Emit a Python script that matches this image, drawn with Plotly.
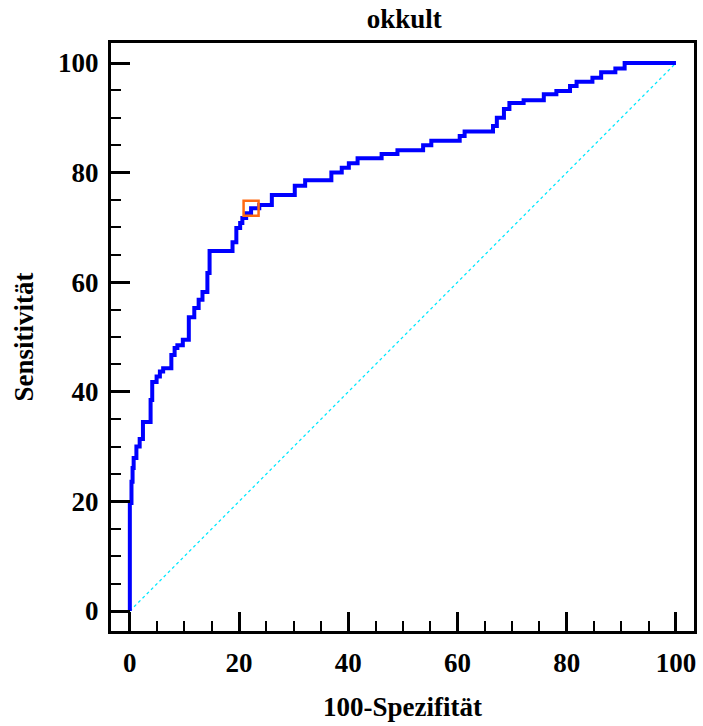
import plotly.graph_objects as go

# ROC curve vertices (100-Spezifität, Sensitivität)
fpr = [0, 0, 0.3, 0.5, 0.7, 1.2, 1.8, 2.4, 3.8, 4.1, 4.9, 5.5, 6.1, 7.6, 8.2, 8.7, 9.7,
       10.8, 11.8, 12.6, 13.3, 14.2, 14.6, 18.8, 19.5, 20.2, 20.6, 21.3, 22.2, 23.7, 26.0,
       30.2, 32.1, 36.9, 38.8, 40.1, 41.7, 46.1, 49.0, 53.7, 55.2, 60.4, 61.3, 66.5, 67.2,
       68.5, 69.5, 72.1, 75.8, 78.1, 80.6, 81.8, 84.7, 86.3, 88.9, 90.6, 100]
tpr = [0, 19.7, 23.6, 26.1, 27.9, 30.0, 31.4, 34.5, 38.5, 41.8, 42.8, 43.7, 44.3, 46.7, 48.0, 48.5, 49.5,
       53.6, 55.3, 56.8, 58.2, 61.7, 65.7, 67.3, 69.9, 70.8, 71.7, 72.6, 73.5, 74.1, 75.9,
       77.6, 78.6, 80.0, 80.9, 81.7, 82.6, 83.4, 84.1, 85.0, 85.8, 86.7, 87.5, 88.5, 90.0,
       91.6, 92.7, 93.2, 94.3, 94.9, 95.8, 96.6, 97.3, 98.3, 99.0, 100, 100]

diag_x = [0, 100]
diag_y = [0, 100]

crit_x = [22.2]
crit_y = [73.5]

tick_vals = [0, 20, 40, 60, 80, 100]

title_text = "okkult"
x_title = "100-Spezifität"
y_title = "Sensitivität"

FONT = "Liberation Serif, Times New Roman, serif"
FS = 27

fig = go.Figure()
fig.add_trace(go.Scatter(x=diag_x, y=diag_y, mode="lines",
                         line=dict(color="#00e8ff", width=1.3, dash="dot"),
                         showlegend=False, hoverinfo="skip"))
fig.add_trace(go.Scatter(x=fpr, y=tpr, mode="lines", line_shape="hv",
                         line=dict(color="#0000ff", width=4),
                         showlegend=False))
fig.add_trace(go.Scatter(x=crit_x, y=crit_y, mode="markers",
                         marker=dict(symbol="square-open", size=15,
                                     line=dict(color="#ff6a13", width=2.5),
                                     color="#ff6a13"),
                         showlegend=False))

axis_common = dict(
    showline=True, linecolor="black", linewidth=3, mirror=True,
    ticks="inside", ticklen=19, tickwidth=2.5, tickcolor="black",
    tickvals=tick_vals, showgrid=False, zeroline=False,
    tickfont=dict(family=FONT, size=FS, color="black", weight="bold"),
    minor=dict(ticks="inside", ticklen=10, tickwidth=2, tickcolor="black",
               dtick=5, tick0=0, showgrid=False),
)

fig.update_layout(
    width=703, height=726,
    margin=dict(l=111, r=6, t=43, b=95),
    paper_bgcolor="white", plot_bgcolor="white",
    title=dict(text=title_text, x=0.575, xanchor="center", y=0.975, yanchor="middle",
               font=dict(family=FONT, size=FS, color="black", weight="bold")),
    xaxis=dict(range=[-3.45, 103.3], title=dict(text=x_title, standoff=20,
               font=dict(family=FONT, size=FS, color="black", weight="bold")),
               ticklabelstandoff=6, **axis_common),
    yaxis=dict(range=[-3.65, 103.65], title=dict(text=y_title, standoff=17,
               font=dict(family=FONT, size=FS, color="black", weight="bold")),
               ticklabelstandoff=4, **axis_common),
)

fig.write_html("out.html")
